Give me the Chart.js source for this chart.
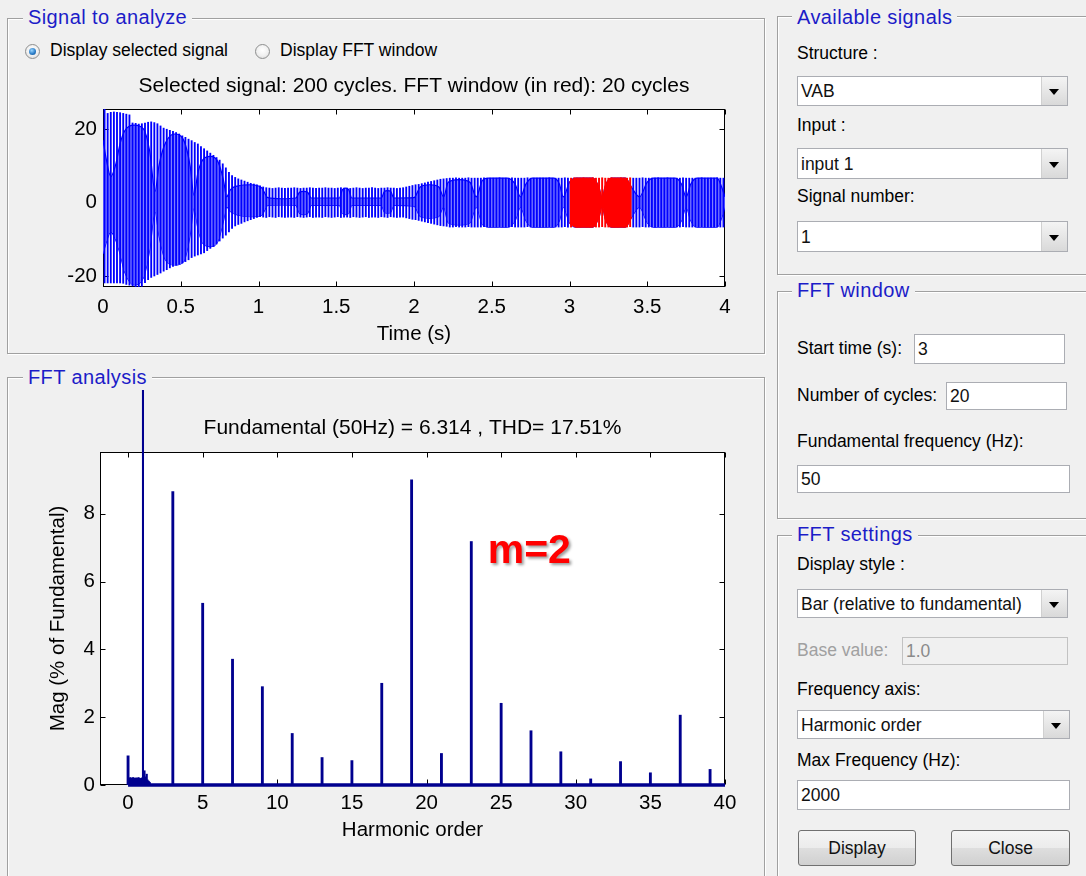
<!DOCTYPE html>
<html><head><meta charset="utf-8">
<script src="https://cdn.jsdelivr.net/npm/chart.js@4.4.1/dist/chart.umd.min.js"></script>
<style>
html,body{margin:0;padding:0;}
body{width:1086px;height:876px;background:#f0f0f0;position:relative;overflow:hidden;font-family:"Liberation Sans",Arial,sans-serif;}
.panel{position:absolute;border:1px solid #a0a0a0;box-shadow:inset 1px 1px 0 #fff,1px 1px 0 #fff;}
.ptitle{position:absolute;background:#f0f0f0;color:#1c1cc8;font-size:20px;letter-spacing:0.4px;padding:0 5px;line-height:24px;white-space:nowrap;}
.lbl{position:absolute;font-size:17.5px;line-height:20px;color:#000;white-space:nowrap;}
.box{position:absolute;background:#fff;border:1px solid #abadb3;box-sizing:border-box;}
.box span{position:absolute;left:3px;top:50%;transform:translateY(-50%);font-size:17.5px;color:#111;white-space:nowrap;}
.box.dis{background:#f0f0f0;border-color:#c2c2c2;}
.box.dis span{color:#8a8a8a;}
.arr{position:absolute;right:0;top:0;bottom:0;width:25px;background:linear-gradient(#f4f4f4,#d9d9d9);border-left:1px solid #d0d0d0;}
.arr:after{content:'';position:absolute;left:7px;top:50%;margin-top:-2px;border-left:5px solid transparent;border-right:5px solid transparent;border-top:6px solid #000;}
.btn{position:absolute;border:1px solid #707070;border-radius:3px;background:linear-gradient(#f4f4f4 0%,#ececec 50%,#dedede 51%,#d0d0d0 100%);font-size:17.5px;text-align:center;box-sizing:border-box;color:#111;}
.radio{position:absolute;width:13px;height:13px;border-radius:50%;border:1px solid #8e8f8f;background:radial-gradient(circle at 50% 40%,#ffffff 0,#f0f0f0 55%,#d2d2d2 100%);}
.radio.on:after{content:'';position:absolute;left:3px;top:3px;width:7px;height:7px;border-radius:50%;background:radial-gradient(circle at 40% 35%,#9ad6ff 0,#2d7fca 55%,#0c4a88 100%);}
.cwrap{position:absolute;}
</style>
</head>
<body>
<!-- panels -->
<div class="panel" style="left:7px;top:18px;width:756px;height:334px;"></div>
<div class="ptitle" style="left:23px;top:5px;">Signal to analyze</div>
<div class="panel" style="left:7px;top:377px;width:756px;height:520px;"></div>
<div class="ptitle" style="left:23px;top:365px;">FFT analysis</div>
<div class="panel" style="left:777px;top:16px;width:320px;height:257px;"></div>
<div class="ptitle" style="left:792px;top:5px;">Available signals</div>
<div class="panel" style="left:777px;top:291px;width:320px;height:226px;"></div>
<div class="ptitle" style="left:792px;top:278px;">FFT window</div>
<div class="panel" style="left:777px;top:535px;width:320px;height:400px;"></div>
<div class="ptitle" style="left:792px;top:522px;">FFT settings</div>

<!-- radio buttons -->
<div class="radio on" style="left:25px;top:44px;"></div>
<div class="lbl" style="left:50px;top:40px;">Display selected signal</div>
<div class="radio" style="left:255px;top:44px;"></div>
<div class="lbl" style="left:280px;top:40px;">Display FFT window</div>

<!-- Available signals -->
<div class="lbl" style="left:797px;top:43px;">Structure :</div>
<div class="box" style="left:797px;top:76px;width:271px;height:30px;"><span>VAB</span><div class="arr"></div></div>
<div class="lbl" style="left:797px;top:115px;">Input :</div>
<div class="box" style="left:797px;top:148px;width:271px;height:31px;"><span>input 1</span><div class="arr"></div></div>
<div class="lbl" style="left:797px;top:186px;">Signal number:</div>
<div class="box" style="left:797px;top:221px;width:271px;height:31px;"><span>1</span><div class="arr"></div></div>

<!-- FFT window -->
<div class="lbl" style="left:797px;top:338px;">Start time (s):</div>
<div class="box" style="left:914px;top:334px;width:151px;height:30px;"><span>3</span></div>
<div class="lbl" style="left:797px;top:385px;">Number of cycles:</div>
<div class="box" style="left:946px;top:382px;width:121px;height:28px;"><span>20</span></div>
<div class="lbl" style="left:797px;top:431px;">Fundamental frequency (Hz):</div>
<div class="box" style="left:797px;top:465px;width:273px;height:28px;"><span>50</span></div>

<!-- FFT settings -->
<div class="lbl" style="left:797px;top:554px;">Display style :</div>
<div class="box" style="left:797px;top:589px;width:271px;height:29px;"><span>Bar (relative to fundamental)</span><div class="arr"></div></div>
<div class="lbl" style="left:797px;top:640px;color:#a0a0a0;">Base value:</div>
<div class="box dis" style="left:902px;top:637px;width:166px;height:28px;"><span>1.0</span></div>
<div class="lbl" style="left:797px;top:679px;">Frequency axis:</div>
<div class="box" style="left:797px;top:710px;width:273px;height:29px;"><span>Harmonic order</span><div class="arr"></div></div>
<div class="lbl" style="left:797px;top:750px;">Max Frequency (Hz):</div>
<div class="box" style="left:797px;top:780px;width:273px;height:30px;"><span>2000</span></div>
<div class="btn" style="left:798px;top:830px;width:118px;height:36px;line-height:34px;">Display</div>
<div class="btn" style="left:951px;top:830px;width:119px;height:36px;line-height:34px;">Close</div>

<div class="cwrap" style="left:0;top:60px;"><canvas id="sig" width="760" height="290"></canvas></div>
<div class="cwrap" style="left:0;top:390px;"><canvas id="fft" width="760" height="486"></canvas></div>

<script>
// ---------------- DATA ----------------
// Signal: 200 cycles of 50 Hz, per-cycle positive and negative peak (V)
const cyclePeriod = 0.02;
const cycleTop = [
 25.4,24.2,24.5,24.6,24.5,24.4,24.2,24.0,23.8,21.6,
 21.5,21.3,21.4,21.6,21.8,21.9,21.7,21.4,20.8,20.2,
 19.9,19.6,19.3,19.0,18.6,18.1,17.7,17.2,16.8,16.3,
 15.9,15.2,14.6,14.0,13.4,12.8,12.2,11.5,10.5,9.4,
 8.2,7.3,6.8,6.4,6.1,5.8,5.5,5.2,5.0,4.8,
 4.5,4.2,4.0,3.9,3.8,3.9,4.0,3.9,3.8,3.9,
 3.9,4.0,3.9,3.8,3.9,3.9,4.0,3.9,3.8,3.9,
 3.9,4.0,3.9,3.9,3.8,3.9,4.0,3.9,3.9,3.8,
 3.9,4.0,3.9,3.8,3.9,3.9,4.0,3.9,3.8,3.9,
 3.9,4.0,3.9,3.9,3.8,3.9,4.0,4.2,4.4,4.6,
 4.8,4.9,5.1,5.3,5.5,5.7,5.9,6.1,6.3,6.4,
 6.5,6.6,6.6,6.7,6.6,6.6,6.6,6.7,6.6,6.6,
 6.6,6.6,6.7,6.6,6.6,6.6,6.6,6.7,6.6,6.6,
 6.6,6.7,6.6,6.6,6.6,6.6,6.7,6.6,6.6,6.6,
 6.6,6.6,6.6,6.7,6.6,6.6,6.6,6.6,6.7,6.6,
 6.6,6.7,6.6,6.6,6.7,6.6,6.6,6.7,6.6,6.6,
 6.7,6.6,6.6,6.7,6.6,6.6,6.7,6.6,6.6,6.7,
 6.6,6.6,6.6,6.7,6.6,6.6,6.6,6.6,6.7,6.6,
 6.6,6.7,6.6,6.6,6.6,6.6,6.7,6.6,6.6,6.6,
 6.6,6.6,6.7,6.6,6.6,6.6,6.6,6.7,6.6,6.6
];
const cycleBottom = [
 -21.9,-21.9,-21.9,-21.9,-21.9,-21.9,-22.0,-22.3,-22.5,-22.7,
 -22.9,-23.0,-22.8,-21.8,-21.0,-20.4,-20.0,-19.6,-19.2,-18.7,
 -18.3,-17.8,-17.4,-17.1,-16.8,-16.5,-16.1,-15.6,-15.0,-14.6,
 -14.3,-14.0,-13.7,-13.1,-12.5,-12.0,-11.3,-10.5,-9.7,-8.9,
 -8.0,-7.1,-6.4,-6.0,-5.7,-5.3,-5.0,-4.7,-4.4,-4.1,
 -3.9,-4.0,-4.1,-3.9,-4.0,-4.1,-3.9,-4.0,-4.1,-4.0,
 -4.0,-4.1,-3.9,-4.0,-4.1,-4.0,-3.9,-4.1,-4.0,-4.0,
 -4.1,-3.9,-4.0,-4.1,-4.0,-3.9,-4.1,-4.0,-4.0,-4.1,
 -3.9,-4.0,-4.1,-4.0,-3.9,-4.1,-4.0,-4.0,-4.1,-3.9,
 -4.0,-4.1,-3.9,-4.0,-4.1,-4.0,-4.0,-4.2,-4.4,-4.6,
 -4.7,-4.9,-5.1,-5.3,-5.5,-5.7,-5.9,-6.1,-6.3,-6.4,
 -6.5,-6.7,-6.7,-6.6,-6.7,-6.7,-6.7,-6.6,-6.7,-6.7,
 -6.7,-6.7,-6.6,-6.7,-6.7,-6.7,-6.7,-6.6,-6.7,-6.7,
 -6.7,-6.6,-6.7,-6.7,-6.7,-6.7,-6.6,-6.7,-6.7,-6.7,
 -6.7,-6.7,-6.7,-6.6,-6.7,-6.7,-6.7,-6.7,-6.6,-6.7,
 -6.7,-6.6,-6.7,-6.7,-6.6,-6.7,-6.7,-6.6,-6.7,-6.7,
 -6.6,-6.7,-6.7,-6.6,-6.7,-6.7,-6.6,-6.7,-6.7,-6.6,
 -6.7,-6.7,-6.7,-6.6,-6.7,-6.7,-6.7,-6.7,-6.6,-6.7,
 -6.7,-6.6,-6.7,-6.7,-6.7,-6.7,-6.6,-6.7,-6.7,-6.7,
 -6.7,-6.7,-6.6,-6.7,-6.7,-6.7,-6.7,-6.6,-6.7,-6.7
];
// Beat envelope (dense band)
const lobeTimes = [0.00,0.02,0.05,0.08,0.11,0.14,0.20,0.26,0.30,0.335,0.36,0.40,0.46,0.52,0.56,0.585,0.61,0.64,0.69,0.74,0.775,0.795,0.82,0.87,0.95,1.02,1.06,1.15,1.24,1.265,1.29,1.315,1.34,1.52,1.54,1.56,1.58,1.60,1.79,1.81,1.83,1.85,1.87,2.00,2.04,2.10,2.16,2.19,2.22,2.29,2.36,2.40,2.44,2.48,2.60,2.65,2.685,2.72,2.76,2.90,2.935,2.96,3.00,3.04,3.15,3.19,3.21,3.23,3.27,3.36,3.40,3.45,3.50,3.54,3.68,3.72,3.75,3.78,3.82,3.95,3.98,4.00];
const lobeUpper = [17,12,7,10,16,19.5,21.0,20,14,3,10,16,18.6,16.8,10,2,8,11.5,12.5,11,6,1.5,3.5,4.5,4.8,4.0,1.3,1.0,1.2,2.8,3.0,2.8,1.2,1.2,3.5,3.9,3.5,1.2,1.2,3.0,3.2,3.0,1.2,1.3,4.2,4.8,4.2,1.5,5.5,6.2,5.5,1.5,6.0,6.6,6.6,5.0,1.5,5.0,6.6,6.6,5.0,1.5,5.5,6.6,6.6,4.0,1.2,4.5,6.6,6.6,4.0,1.5,5.5,6.6,6.6,5.0,1.5,5.0,6.6,6.6,4.0,1.5];
const lobeLower = [-14,-11,-8,-10,-14,-19,-22.4,-20.5,-13,-2.5,-9,-15.5,-17.0,-16.0,-9,-1.5,-7,-11,-12,-10.5,-5,-1.2,-2.5,-3.5,-3.9,-3.5,-0.8,-0.7,-0.8,-3.0,-3.3,-3.0,-0.8,-0.8,-3.0,-3.3,-3.0,-0.8,-0.8,-2.7,-2.9,-2.7,-0.8,-1.0,-3.8,-4.25,-3.8,-1.2,-5.5,-6.1,-5.5,-1.3,-6.0,-6.7,-6.7,-5.0,-1.3,-5.0,-6.7,-6.7,-5.0,-1.3,-5.5,-6.7,-6.7,-4.0,-1.0,-4.5,-6.7,-6.7,-4.0,-1.3,-5.5,-6.7,-6.7,-5.0,-1.3,-5.0,-6.7,-6.7,-4.0,-1.3];
const fftWindowStart = 3;      // s
const fftWindowCycles = 20;
const timeTicks = [0,0.5,1,1.5,2,2.5,3,3.5,4];
const signalTicks = [-20,0,20];
const signalTitle = 'Selected signal: 200 cycles. FFT window (in red): 20 cycles';

// FFT spectrum (% of fundamental)
const harmonicOrders = [0,3,5,7,9,11,13,15,17,19,21,23,25,27,29,31,33,35,37,39];
const harmonicMags   = [0.86,8.65,5.36,3.71,2.90,1.52,0.81,0.72,3.00,9.00,0.93,7.18,2.41,1.60,0.98,0.18,0.69,0.36,2.06,0.46];
const fundamentalOrder = [1];
const fundamentalMag = [100];
const lowOrders = [0.05,0.1,0.15,0.2,0.25,0.3,0.35,0.4,0.45,0.5,0.55,0.6,0.65,0.7,0.75,0.8,0.85,0.9,0.95,1.05,1.1,1.15,1.2,1.25,1.3,1.35,1.4,1.45];
const lowMags   = [0.18,0.20,0.22,0.20,0.19,0.21,0.22,0.20,0.18,0.20,0.21,0.19,0.20,0.22,0.20,0.18,0.19,0.20,0.21,0.25,0.42,0.24,0.20,0.32,0.15,0.12,0.10,0.08];
const floorOrders = [0,40];
const floorMags = [0,0];
const orderTicks = [0,5,10,15,20,25,30,35,40];
const magTicks = [0,2,4,6,8];
const fftTitle = 'Fundamental (50Hz) = 6.314 , THD= 17.51%';
const noteText = 'm=2';
const noteOrder = 24.1;
const noteMag = 6.54;

// ---------------- CHARTS ----------------
Chart.defaults.font.family = '"Liberation Sans", Arial, sans-serif';
Chart.defaults.font.size = 20.5;
Chart.defaults.color = '#000';
Chart.defaults.animation = false;
Chart.defaults.elements.point.radius = 0;
Chart.defaults.elements.point.hoverRadius = 0;

const matlabBox = {
  id: 'matlabBox',
  beforeDatasetsDraw(chart) {
    const {ctx, chartArea: a, scales} = chart;
    const L = Math.round(a.left) + 0.5, R = Math.round(a.right) - 0.5;
    const T = Math.round(a.top) + 0.5, B = Math.round(a.bottom) - 0.5;
    ctx.save();
    ctx.fillStyle = '#fff';
    ctx.fillRect(L, T, R - L, B - T);
    ctx.strokeStyle = '#000';
    ctx.lineWidth = 1;
    ctx.strokeRect(L, T, R - L, B - T);
    ctx.beginPath();
    const len = 5;
    scales.x.ticks.forEach(t => {
      const px = Math.round(scales.x.getPixelForValue(t.value)) + 0.5;
      ctx.moveTo(px, B); ctx.lineTo(px, B - len);
      ctx.moveTo(px, T); ctx.lineTo(px, T + len);
    });
    scales.y.ticks.forEach(t => {
      const py = Math.round(scales.y.getPixelForValue(t.value)) + 0.5;
      ctx.moveTo(L, py); ctx.lineTo(L + len, py);
      ctx.moveTo(R, py); ctx.lineTo(R - len, py);
    });
    ctx.stroke();
    ctx.restore();
  }
};

const setTicks = arr => s => { s.ticks = arr.map(v => ({value: v})); };

// Signal chart
const cycleTimes = cycleTop.map((_, k) => Math.round((k * cyclePeriod + cyclePeriod / 2) * 1000) / 1000);
const winEnd = fftWindowStart + fftWindowCycles * cyclePeriod;
const inWin = t => t >= fftWindowStart - 1e-9 && t <= winEnd + 1e-9;
const spikes = cycleTimes.map((t, k) => ({x: t, y: [cycleBottom[k], cycleTop[k]]}));
const lobeUp = lobeTimes.map((t, i) => ({x: t, y: lobeUpper[i]}));
const lobeLo = lobeTimes.map((t, i) => ({x: t, y: lobeLower[i]}));

new Chart(document.getElementById('sig'), {
  type: 'bar',
  data: {
    datasets: [
      {type: 'line', data: lobeUp, borderColor: '#0000ff', borderWidth: 1.2, backgroundColor: 'rgb(125,125,255)', fill: '+1', pointRadius: 0, cubicInterpolationMode: 'monotone', order: 4},
      {type: 'line', data: lobeLo, borderColor: '#0000ff', borderWidth: 1.2, pointRadius: 0, cubicInterpolationMode: 'monotone', fill: false, order: 4},
      {type: 'bar', data: spikes.filter(p => !inWin(p.x)), backgroundColor: '#0000ff', barThickness: 1.2, grouped: false, order: 3},
      {type: 'line', data: lobeUp.filter(p => inWin(p.x)), borderColor: '#ff0000', borderWidth: 1.2, backgroundColor: '#ff0000', fill: '+1', pointRadius: 0, cubicInterpolationMode: 'monotone', order: 2},
      {type: 'line', data: lobeLo.filter(p => inWin(p.x)), borderColor: '#ff0000', borderWidth: 1.2, pointRadius: 0, cubicInterpolationMode: 'monotone', fill: false, order: 2},
      {type: 'bar', data: spikes.filter(p => inWin(p.x)), backgroundColor: '#ff0000', barThickness: 1.3, grouped: false, order: 1}
    ]
  },
  options: {
    responsive: false, animation: false, events: [],
    layout: {padding: {left: 0, right: 35, top: 0, bottom: 0}},
    plugins: {
      legend: {display: false}, tooltip: {enabled: false},
      title: {display: true, text: signalTitle, fullSize: false, font: {size: 21, weight: 'normal'}, color: '#000', padding: {top: 13.4, bottom: 10.4}}
    },
    scales: {
      x: {type: 'linear', min: 0, max: 4, offset: false,
          grid: {display: false, drawTicks: false}, border: {display: false},
          afterBuildTicks: setTicks(timeTicks),
          ticks: {padding: 7.7, maxRotation: 0, autoSkip: false, callback: v => String(v)},
          title: {display: true, text: 'Time (s)', padding: {top: 0, bottom: 3.7}},
          afterFit: s => { s.height = 63; }},
      y: {type: 'linear', min: -23, max: 25.4,
          grid: {display: false, drawTicks: false}, border: {display: false},
          afterBuildTicks: setTicks(signalTicks),
          ticks: {padding: 6, callback: v => String(v)},
          afterFit: s => { s.width = 103; }}
    }
  },
  plugins: [matlabBox]
});

// FFT chart
const notePlugin = {
  id: 'note',
  afterDatasetsDraw(chart) {
    const {ctx, scales: {x, y}} = chart;
    ctx.save();
    ctx.font = 'bold 41px "Liberation Sans", Arial, sans-serif';
    ctx.fillStyle = '#ff0000';
    ctx.textAlign = 'left'; ctx.textBaseline = 'alphabetic';
    ctx.shadowColor = 'rgba(0,0,0,0.4)'; ctx.shadowBlur = 3; ctx.shadowOffsetX = 2; ctx.shadowOffsetY = 2;
    ctx.fillText(noteText, x.getPixelForValue(noteOrder), y.getPixelForValue(noteMag));
    ctx.restore();
  }
};
const navy = '#00008f';
new Chart(document.getElementById('fft'), {
  type: 'bar',
  data: {
    datasets: [
      {type: 'line', data: floorOrders.map((o, i) => ({x: o, y: floorMags[i]})), borderColor: navy, borderWidth: 3.5, pointRadius: 0, fill: false, clip: false, order: 4},
      {type: 'bar', data: lowOrders.map((o, i) => ({x: o, y: lowMags[i]})), backgroundColor: navy, barThickness: 1.5, grouped: false, order: 3},
      {type: 'bar', data: harmonicOrders.map((o, i) => ({x: o, y: harmonicMags[i]})), backgroundColor: navy, barThickness: 2.2, grouped: false, order: 2},
      {type: 'bar', data: fundamentalOrder.map((o, i) => ({x: o, y: fundamentalMag[i]})), backgroundColor: navy, barThickness: 1.4, grouped: false, clip: false, order: 1}
    ]
  },
  options: {
    responsive: false, animation: false, events: [],
    layout: {padding: {left: 0, right: 35, top: 0, bottom: 0}},
    plugins: {
      legend: {display: false}, tooltip: {enabled: false},
      title: {display: true, text: fftTitle, fullSize: false, font: {size: 21, weight: 'normal'}, color: '#000', padding: {top: 25.4, bottom: 11.4}}
    },
    scales: {
      x: {type: 'linear', min: -1.88, max: 40, offset: false,
          grid: {display: false, drawTicks: false}, border: {display: false},
          afterBuildTicks: setTicks(orderTicks),
          ticks: {padding: 5.7, maxRotation: 0, autoSkip: false, callback: v => String(v)},
          title: {display: true, text: 'Harmonic order', padding: {top: 0, bottom: 33.7}},
          afterFit: s => { s.height = 91; }},
      y: {type: 'linear', min: 0, max: 9.82,
          grid: {display: false, drawTicks: false}, border: {display: false},
          afterBuildTicks: setTicks(magTicks),
          ticks: {padding: 5, callback: v => String(v)},
          title: {display: true, text: 'Mag (% of Fundamental)', padding: {top: 45.7, bottom: 0}},
          afterFit: s => { s.width = 100; }}
    }
  },
  plugins: [matlabBox, notePlugin]
});
</script>
</body></html>
